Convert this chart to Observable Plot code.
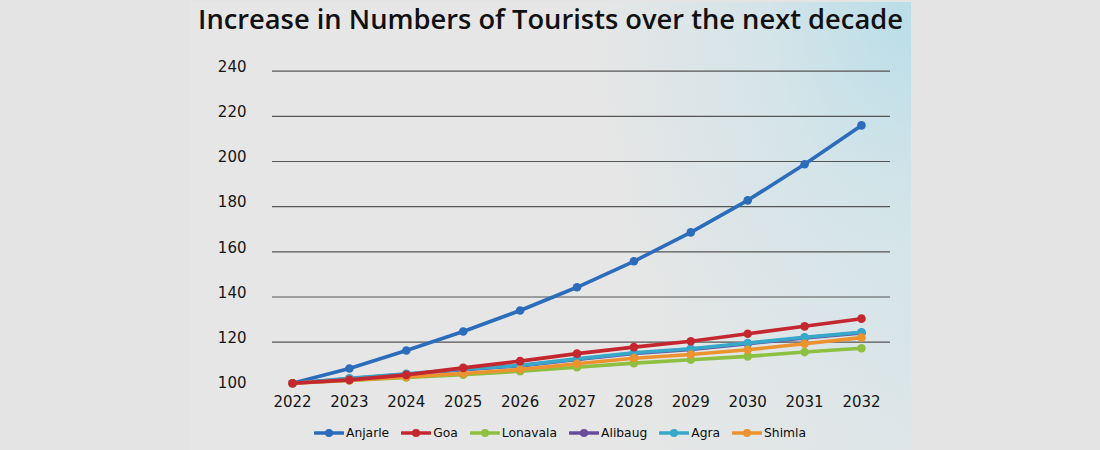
<!DOCTYPE html>
<html>
<head>
<meta charset="utf-8">
<script src="https://cdn.jsdelivr.net/npm/d3@7"></script>
<script src="https://cdn.jsdelivr.net/npm/@observablehq/plot@0.6"></script>
<style>
  html, body { margin: 0; padding: 0; background: #e4e4e4; }
  #wrap { position: relative; width: 1100px; height: 450px; overflow: hidden; background: #e4e4e4; }
  #panel { position: absolute; left: 190px; top: 2px; width: 721px; height: 448px;
    background:
      radial-gradient(ellipse 45% 100% at 100% 0%, rgba(184,221,232,0.95) 0%, rgba(200,226,234,0.5) 45%, rgba(228,228,228,0) 100%),
      linear-gradient(to right, #e6e6e6 0%, #e6e6e6 60%, #dde6e8 100%); }
  #title { position: absolute; left: 190px; width: 721px; top: 0; height: 38px; line-height: 38px; text-align: center;
    font-family: "Open Sans", Roboto, sans-serif; font-weight: 600; font-size: 27.3px; color: #111; white-space: nowrap; }
  #chart { position: absolute; left: 0; top: 40px; }
  #legend { position: absolute; left: 0; width: 1120px; top: 424px; height: 18px; display: flex; justify-content: center; align-items: center;
    font-family: "DejaVu Sans", sans-serif; font-size: 12.3px; color: #0d0d0d; }
  .item { display: flex; align-items: center; margin: 0 6px; }
  .item svg { margin-right: 2px; }
</style>
</head>
<body>
<div id="wrap">
  <div id="panel"></div>
  <div id="title"></div>
  <div id="chart"></div>
  <div id="legend"></div>
</div>
<script>
const titleText = "Increase in Numbers of Tourists over the next decade";
const years = [2022, 2023, 2024, 2025, 2026, 2027, 2028, 2029, 2030, 2031, 2032];
const seriesNames = ["Anjarle", "Goa", "Lonavala", "Alibaug", "Agra", "Shimla"];
const seriesColors = ["#2b6dbb", "#c4272f", "#8dc040", "#6a4c9d", "#37a7ca", "#ec922f"];
const anjarle  = [101.8, 108.3, 116.3, 124.7, 134.0, 144.3, 155.8, 168.6, 182.8, 198.8, 216.0];
const goa      = [101.8, 103.3, 105.5, 108.6, 111.6, 114.9, 117.8, 120.4, 123.7, 127.0, 130.4];
const lonavala = [101.8, 103.0, 104.4, 105.6, 107.1, 108.9, 110.7, 112.2, 113.7, 115.6, 117.3];
const alibaug  = [101.8, 103.8, 105.8, 107.8, 109.5, 112.3, 115.0, 116.8, 119.3, 121.9, 124.1];
const agra     = [101.8, 104.0, 106.0, 108.0, 109.7, 112.6, 115.3, 117.1, 119.6, 122.2, 124.4];
const shimla   = [101.8, 103.1, 104.6, 106.1, 107.9, 110.4, 112.9, 114.5, 116.6, 119.3, 122.0];
const yTicks = [100, 120, 140, 160, 180, 200, 220, 240];
const drawOrder = ["Anjarle", "Lonavala", "Alibaug", "Agra", "Shimla", "Goa"];

const valuesBySeries = {Anjarle: anjarle, Goa: goa, Lonavala: lonavala, Alibaug: alibaug, Agra: agra, Shimla: shimla};
const rows = seriesNames.flatMap(name => years.map((yr, j) => ({year: yr, value: valuesBySeries[name][j], series: name})));

document.getElementById("title").textContent = titleText;

const seriesMarks = drawOrder.flatMap(name => {
  const d = rows.filter(r => r.series === name);
  return [
    Plot.line(d, {x: "year", y: "value", stroke: "series", strokeWidth: 3.6, strokeLinejoin: "round", strokeLinecap: "round"}),
    Plot.dot(d, {x: "year", y: "value", fill: "series", r: 4.3})
  ];
});

const chart = Plot.plot({
  width: 1100,
  height: 372,
  marginLeft: 272,
  marginRight: 210,
  marginTop: 30.7,
  marginBottom: 25.2,
  style: {background: "transparent", fontFamily: "DejaVu Sans, sans-serif", fontSize: "15px", color: "#151515"},
  x: {domain: [2021.648, 2032.51], label: null},
  y: {domain: [100, 240], label: null},
  color: {domain: seriesNames, range: seriesColors},
  marks: [
    Plot.ruleY(yTicks.filter(t => t > 100), {stroke: "#555", strokeWidth: 1.2}),
    Plot.axisX({ticks: years, tickFormat: d => String(d), tickSize: 0, tickPadding: 9, fontSize: 15, label: null}),
    Plot.axisY({ticks: yTicks, tickSize: 0, tickPadding: 26, dy: -4, fontSize: 15, label: null}),
    ...seriesMarks
  ]
});
document.getElementById("chart").appendChild(chart);

const legend = document.getElementById("legend");
seriesNames.forEach((name, i) => {
  const item = document.createElement("div");
  item.className = "item";
  item.innerHTML = `<svg width="30" height="10"><line x1="1" y1="5" x2="29" y2="5" stroke="${seriesColors[i]}" stroke-width="3.6" stroke-linecap="round"/><circle cx="15" cy="5" r="4" fill="${seriesColors[i]}"/></svg><span>${name}</span>`;
  legend.appendChild(item);
});
</script>
</body>
</html>
